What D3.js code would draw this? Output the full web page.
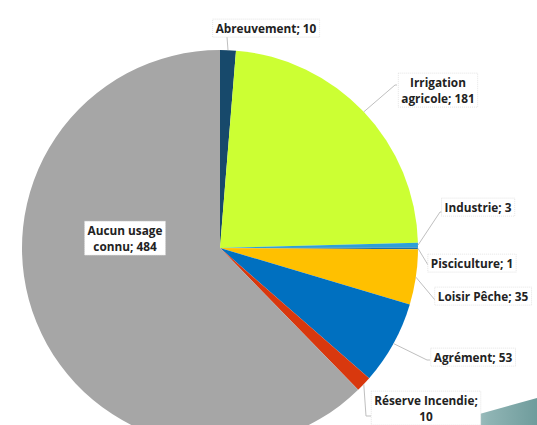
<!DOCTYPE html>
<html><head><meta charset="utf-8">
<script src="https://cdn.jsdelivr.net/npm/d3@7"></script>
<style>body{margin:0;background:#fff;}svg{display:block;}</style>
</head><body>
<svg id="c" width="537" height="425"></svg>
<script>
const categories = ["Abreuvement","Irrigation agricole","Industrie","Pisciculture","Loisir Pêche","Agrément","Réserve Incendie","Aucun usage connu"];
const values = [10,181,3,1,35,53,10,484];
const colors = ["#17496b","#ccff33","#2e9fd8","#1d6fa5","#ffc000","#0070c0","#d8380e","#a6a6a6"];
// label layout: text lines, centre, leader end
const labelLines = [["Abreuvement; 10"],["Irrigation","agricole; 181"],["Industrie; 3"],["Pisciculture; 1"],["Loisir Pêche; 35"],["Agrément; 53"],["Réserve Incendie;","10"],["Aucun usage","connu; 484"]];
const labelPos = [[266,29],[438,83],[478,208],[472,264],[483,297],[473,358],[426,401],[125,231]];
const leaderEnd = [[227,37],[[395,85],[397,85]],[[440,212],[442,212]],[[428,265],[429,265]],[[435,300],[437,300]],[[427,360],[430,360]],[[366,416],[371,416]],null];

const svg = d3.select("#c");
const cx = 220, cy = 248, r = 198;

// decorative teal shape
const defs = svg.append("defs");
const lg = defs.append("linearGradient").attr("id","tg").attr("x1","0").attr("x2","1").attr("y1","0").attr("y2","0");
lg.append("stop").attr("offset","0").attr("stop-color","#c9dcdc");
lg.append("stop").attr("offset","0.5").attr("stop-color","#8fb4b4");
lg.append("stop").attr("offset","1").attr("stop-color","#6f9c9c");
svg.append("path").attr("d","M440,425 L537,398 L537,425 Z").attr("fill","url(#tg)");

const pie = d3.pie().sort(null).value(d=>d)(values);
const arc = d3.arc().innerRadius(0).outerRadius(r);
const g = svg.append("g").attr("transform",`translate(${cx},${cy})`);
g.selectAll("path").data(pie).join("path").attr("d",arc).attr("fill",(d,i)=>colors[i]);

// leaders
pie.forEach((d,i)=>{
  const end = leaderEnd[i];
  if(!end) return;
  const a = (d.startAngle+d.endAngle)/2;
  const sx = cx + r*Math.sin(a), sy = cy - r*Math.cos(a);
  let pts = [[sx,sy]];
  if(Array.isArray(end[0])) pts = pts.concat(end); else pts.push(end);
  svg.append("path").attr("d",d3.line()(pts)).attr("fill","none").attr("stroke","#bfbfbf").attr("stroke-width",1);
});

// labels
const fs = 11.8, lh = 16;
labelLines.forEach((lines,i)=>{
  const [x,y] = labelPos[i];
  const lg2 = svg.append("g");
  const t = lg2.append("text").attr("text-anchor","middle").attr("font-family","'Open Sans', sans-serif").attr("font-weight","bold").attr("font-size",fs).attr("fill","#222");
  lines.forEach((s,j)=>t.append("tspan").attr("x",x).attr("y",y+j*lh).attr("dy","0.35em").text(s));
  const bb = t.node().getBBox();
  lg2.insert("rect","text").attr("x",bb.x-3).attr("y",bb.y-1).attr("width",bb.width+6).attr("height",bb.height+2)
    .attr("fill","#fff").attr("stroke","#d9d9d9").attr("stroke-width",0.7).attr("stroke-dasharray","1,1");
});
</script>
</body></html>
